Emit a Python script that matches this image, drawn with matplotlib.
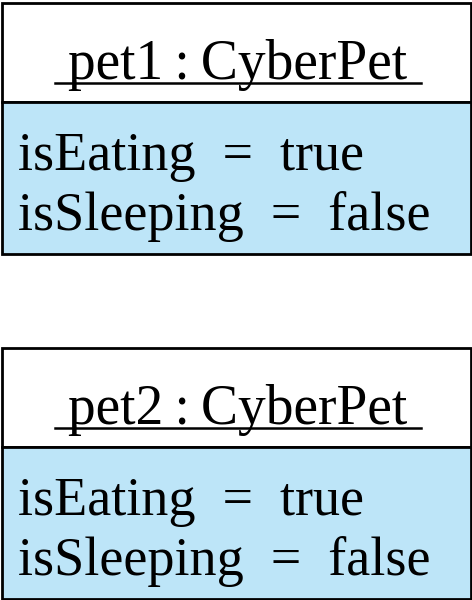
import matplotlib.pyplot as plt
from matplotlib.patches import Rectangle

# Object diagram content
object_names = ["pet1", "pet2"]
class_name = "CyberPet"
attr_names = ["isEating", "isSleeping"]
attr_values = [["true", "false"], ["true", "false"]]

fig = plt.figure(figsize=(4.72, 6.0), dpi=100)
ax = fig.add_axes([0, 0, 1, 1])
ax.set_xlim(0, 472)
ax.set_ylim(600, 0)
ax.axis("off")

font = "Liberation Serif"
tops = [3, 348]
for name, vals, top in zip(object_names, attr_values, tops):
    head_h, body_h = 99, 152
    ax.add_patch(Rectangle((1.5, top), 469, head_h, fc="white", ec="black", lw=2))
    ax.add_patch(Rectangle((1.5, top + head_h), 469, body_h, fc="#bde5f8", ec="black", lw=2))
    title = f"{name}\u2009:\u2009{class_name}"
    ax.text(238, top + 76, title, ha="center", va="baseline", fontsize=40, family=font)
    ax.plot([55, 421], [top + 80, top + 80], color="black", lw=1.8)
    for i, (a, v) in enumerate(zip(attr_names, vals)):
        ax.text(18, top + head_h + 68 + i * 60, f"{a}  =  {v}", ha="left", va="baseline",
                fontsize=39, family=font)

fig.savefig("out.png", dpi=100)
